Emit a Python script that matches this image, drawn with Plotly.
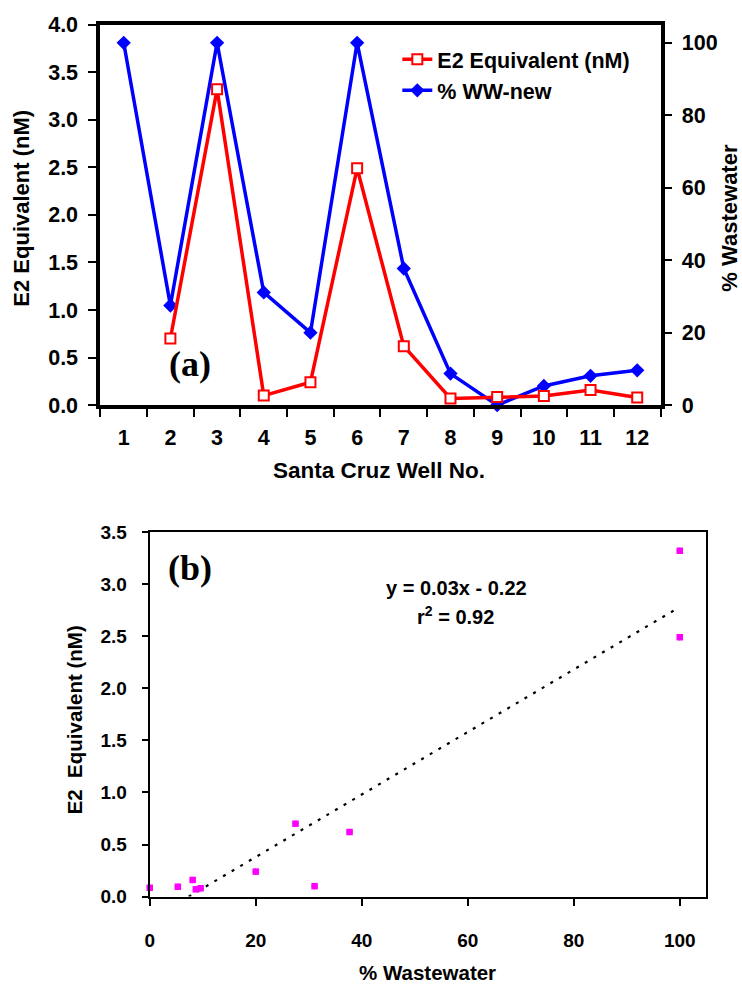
import plotly.graph_objects as go

# ---------------- data ----------------
wells = ["1", "2", "3", "4", "5", "6", "7", "8", "9", "10", "11", "12"]
e2_equiv = [None, 0.70, 3.32, 0.10, 0.24, 2.49, 0.62, 0.07, 0.085, 0.095, 0.16, 0.08]
ww_pct = [100, 27.5, 100, 31.1, 20.0, 100, 37.7, 8.7, 0, 5.3, 8.1, 9.6]

trend_slope = 0.03
trend_intercept = -0.22
trend_x_end = 99.0

left_ticks_a = [0, 0.5, 1.0, 1.5, 2.0, 2.5, 3.0, 3.5, 4.0]
right_ticks_a = [0, 20, 40, 60, 80, 100]
x_ticks_b = [0, 20, 40, 60, 80, 100]
y_ticks_b = [0, 0.5, 1.0, 1.5, 2.0, 2.5, 3.0, 3.5]

# pairs for the scatter panel (wells with both values)
pairs = [(w, e) for w, e in zip(ww_pct, e2_equiv) if e is not None]
sc_x = [p[0] for p in pairs]
sc_y = [p[1] for p in pairs]

trend_x = [-trend_intercept / trend_slope, trend_x_end]
trend_y = [trend_slope * x + trend_intercept for x in trend_x]

SANS = "Liberation Sans, Arial, sans-serif"
SERIF = "Liberation Serif, Times New Roman, serif"

fig = go.Figure()

# panel (a)
fig.add_trace(go.Scatter(
    x=wells, y=ww_pct, name="% WW-new", xaxis="x", yaxis="y",
    mode="lines+markers", cliponaxis=False,
    line=dict(color="#0000FF", width=3.5),
    marker=dict(symbol="diamond", size=11, color="#0000FF"),
))
fig.add_trace(go.Scatter(
    x=wells, y=e2_equiv, name="E2 Equivalent (nM)", xaxis="x", yaxis="y2",
    mode="lines+markers", cliponaxis=False,
    line=dict(color="#FF0000", width=3.5),
    marker=dict(symbol="square", size=10, color="white",
                line=dict(color="#FF0000", width=2)),
))

# panel (b)
fig.add_trace(go.Scatter(
    x=trend_x, y=trend_y, xaxis="x3", yaxis="y3", mode="lines",
    line=dict(color="black", width=2.2, dash="3px,7px"), showlegend=False,
))
fig.add_trace(go.Scatter(
    x=sc_x, y=sc_y, xaxis="x3", yaxis="y3", mode="markers", cliponaxis=False,
    marker=dict(symbol="diamond", size=5, color="#000080"), showlegend=False,
))
fig.add_trace(go.Scatter(
    x=sc_x, y=sc_y, xaxis="x3", yaxis="y3", mode="markers", cliponaxis=False,
    marker=dict(symbol="square", size=6.5, color="#FF00FF",
                line=dict(color="#FF00FF", width=0)), showlegend=False,
))

tick_a = dict(family=SANS, size=21.5, color="black", weight="bold")
tick_b = dict(family=SANS, size=19, color="black", weight="bold")

fig.update_layout(
    width=742, height=986,
    margin=dict(l=0, r=0, t=0, b=0),
    paper_bgcolor="white", plot_bgcolor="white",
    showlegend=True,
    legend=dict(x=0.5323, y=0.971, xanchor="left", yanchor="top",
                bgcolor="rgba(0,0,0,0)", borderwidth=0,
                font=dict(family=SANS, size=21.5, color="black", weight="bold"),
                traceorder="reversed"),
    xaxis=dict(domain=[0.1294, 0.8895], anchor="y", type="category",
               range=[-0.5, 11.5], tickson="boundaries",
               ticks="outside", ticklen=8, tickwidth=2, tickcolor="black",
               showline=True, linewidth=4, linecolor="black", mirror=True,
               showgrid=False, zeroline=False, tickfont=tick_a,
               ticklabelstandoff=10),
    yaxis=dict(domain=[0.5903, 0.9858], anchor="x", side="right",
               range=[0, 105], tickvals=right_ticks_a,
               ticks="outside", ticklen=7, tickwidth=2, tickcolor="black",
               showline=True, linewidth=4, linecolor="black",
               showgrid=False, zeroline=False, tickfont=tick_a,
               ticklabelstandoff=6),
    yaxis2=dict(overlaying="y", anchor="x", side="left",
                range=[0, 4.0], tickvals=left_ticks_a, tickformat=".1f",
                ticks="outside", ticklen=8, tickwidth=2, tickcolor="black",
                showline=True, linewidth=4, linecolor="black",
                showgrid=False, zeroline=False, tickfont=tick_a,
                ticklabelstandoff=6),
    xaxis3=dict(domain=[0.1964, 0.9515], anchor="y3",
                range=[0, 105], tickvals=x_ticks_b,
                ticks="outside", ticklen=7, tickwidth=2, tickcolor="black",
                showline=True, linewidth=2, linecolor="black", mirror=True,
                showgrid=False, zeroline=False, tickfont=tick_b,
                ticklabelstandoff=19),
    yaxis3=dict(domain=[0.0794, 0.4584], anchor="x3",
                range=[0, 3.5], tickvals=y_ticks_b, tickformat=".1f",
                ticks="outside", ticklen=6, tickwidth=2, tickcolor="black",
                showline=True, linewidth=2, linecolor="black", mirror=True,
                showgrid=False, zeroline=False, tickfont=tick_b,
                ticklabelstandoff=11),
)

def ann(text, x, y, size=22, family=SANS, angle=0, yanchor="middle", yshift=0):
    fig.add_annotation(text=text, x=x / 742, y=1 - y / 986, xref="paper", yref="paper",
                       xanchor="center", yanchor=yanchor, showarrow=False,
                       textangle=angle, yshift=yshift,
                       font=dict(family=family, size=size, color="black",
                                 weight="bold"))

ann("E2 Equivalent (nM)", 17, 201.7, angle=-90)
ann("% Wastewater", 729, 211.7, angle=-90)
ann("Santa Cruz Well No.", 376.7, 470.7, size=22.5)
ann("(a)", 186.7, 362, size=36, family=SERIF)
ann("(b)", 186.7, 571, size=36, family=SERIF)
ann("y = 0.03x - 0.22", 455, 591, size=20)
ann("r<sup>2</sup> = 0.92", 454, 620, size=20)
ann("E2\u00a0 Equivalent (nM)", 70, 726.5, size=20.5, angle=-90)
ann("% Wastewater", 425.5, 976.7, size=20.5, yshift=-9)

fig.write_html("out.html", config={"displayModeBar": False},
               post_script="document.body.style.margin='0';document.body.style.overflow='hidden';")
